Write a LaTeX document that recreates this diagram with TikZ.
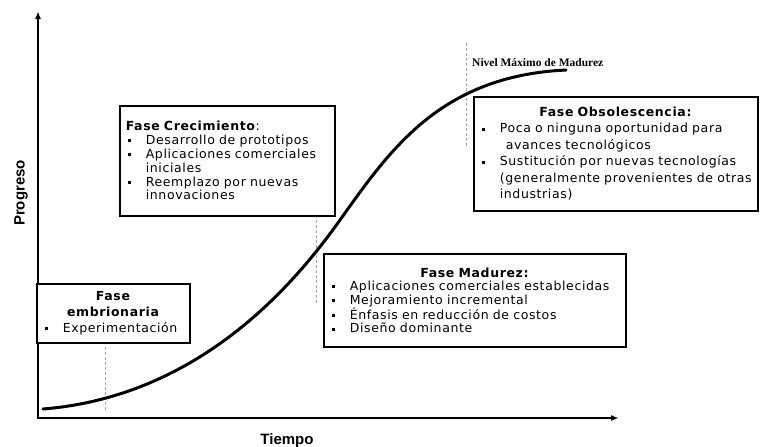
\documentclass[tikz,border=0pt]{standalone}
\usepackage{fontspec}
\setmainfont{DejaVu Sans}
\newfontfamily\boxfont[LetterSpace=5]{DejaVu Sans}
\newfontfamily\axisfont{Liberation Sans}
\newfontfamily\notefont{Liberation Serif}
\usetikzlibrary{arrows.meta}
\setlength{\parindent}{0pt}

% small square bullet and list helpers for the phase boxes
\newcommand\sqbul{\raisebox{2.3pt}{\rule{3pt}{3pt}}}
\newcommand\bitem[1]{\leavevmode\hbox to 20pt{\hspace{2pt}\sqbul\hfil}#1}
\newcommand\cont[1]{\leavevmode\hspace*{20pt}#1}
\newcommand\ctitle[1]{\leavevmode\hfill\textbf{#1}\hfill\null}

\begin{document}
\begin{tikzpicture}[x=1pt,y=-1pt,
  phase/.style={draw, line width=1.6pt, anchor=north west, inner xsep=6pt,
    inner ysep=0pt, align=left, fill=white},
  axis/.style={line width=2.5pt, line join=miter},
  guide/.style={gray!70, line width=0.8pt, dash pattern=on 3pt off 2pt},
  curvestyle/.style={line width=3pt, line cap=round}]

\useasboundingbox (0,0) rectangle (761,447);

% axes
\coordinate (O) at (38,418);
\coordinate (ytop) at (38,11);
\coordinate (xend) at (619,418);
\draw[axis, {Latex[length=8pt,width=6pt]}-{Latex[length=8pt,width=6pt]}]
  (ytop) -- (O) -- (xend);

\node[font=\axisfont\bfseries\fontsize{15}{18}\selectfont, rotate=90, anchor=base]
  (ylab) at (24.5,193) {Progreso};
\node[font=\axisfont\bfseries\fontsize{15}{18}\selectfont, anchor=base]
  (xlab) at (287,444) {Tiempo};

% phase boundaries
\draw[guide] (105,347) -- (105,410);
\draw[guide] (316,205) -- (316,305);
\draw[guide] (466,43) -- (466,148);

% S-curve of technological progress (two cubic pieces meeting at the inflection)
\coordinate (cstart) at (43,409);
\coordinate (cinfl) at (340,220);
\coordinate (cend) at (566,70);
\draw[curvestyle] (cstart) .. controls (205,396) and (300,276) .. (cinfl)
  .. controls (390,150) and (440,76) .. (cend);

\node[font=\notefont\bfseries\fontsize{11.5}{12}\selectfont, anchor=base west,
  inner sep=0pt] (peak) at (472,66) {Nivel Máximo de Madurez};

% phase boxes
\node[phase, minimum width=153pt, minimum height=59pt, text width=141pt,
  font=\boxfont\fontsize{12.5}{16}\selectfont] (emb) at (36,283)
  {\ctitle{Fase}\\ \ctitle{embrionaria}\\ \bitem{Experimentación}};

\node[phase, minimum width=215pt, minimum height=110pt, text width=203pt,
  font=\boxfont\fontsize{12.5}{13.8}\selectfont] (cre) at (119,105)
  {\textbf{Fase Crecimiento}:\\
   \bitem{Desarrollo de prototipos}\\
   \bitem{Aplicaciones comerciales}\\
   \cont{iniciales}\\
   \bitem{Reemplazo por nuevas}\\
   \cont{innovaciones}};

\node[phase, minimum width=302pt, minimum height=93pt, text width=290pt,
  font=\boxfont\fontsize{12.5}{13.5}\selectfont] (mad) at (323,253)
  {\ctitle{Fase Madurez:}\\
   \bitem{Aplicaciones comerciales establecidas}\\
   \bitem{Mejoramiento incremental}\\
   \bitem{Énfasis en reducción de costos}\\
   \bitem{Diseño dominante}};

\node[phase, minimum width=284pt, minimum height=114pt, text width=272pt,
  font=\boxfont\fontsize{12.5}{16.5}\selectfont] (obs) at (473,96)
  {\ctitle{Fase Obsolescencia:}\\
   \bitem{Poca o ninguna oportunidad para}\\
   \leavevmode\hspace*{26pt}avances tecnológicos\\
   \bitem{Sustitución por nuevas tecnologías}\\
   \cont{(generalmente provenientes de otras}\\
   \cont{industrias)}};

\end{tikzpicture}
\end{document}
